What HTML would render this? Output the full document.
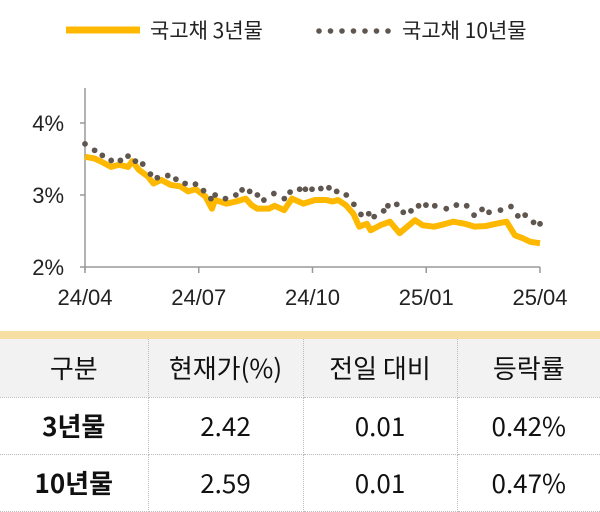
<!DOCTYPE html>
<html><head><meta charset="utf-8"><style>
body{margin:0;width:600px;height:504px;background:#fff;overflow:hidden;font-family:"Liberation Sans","Noto Sans CJK KR",sans-serif;position:relative}
svg{position:absolute;left:0;top:0}
table{position:absolute;left:0;top:339px;width:600px;border-collapse:collapse;font-family:"Noto Sans CJK KR","Liberation Sans",sans-serif;table-layout:fixed}
td{text-align:center;font-size:26px;color:#111;border:1px dotted #bbb;padding:0;line-height:1;box-sizing:border-box}
tr.h td{background:#f2f2f2;height:58px;border-top:none}
tr.r td{height:57px}
td:first-child{border-left:none}td:last-child{border-right:none}
</style></head><body>
<svg width="600" height="340" id="chart"></svg>
<div style="position:absolute;left:0;top:331px;width:600px;height:8px;background:#f7dfa3"></div>
<table>
<tr class="h"><td style="width:148px">구분</td><td style="width:155px">현재가(%)</td><td style="width:154px">전일 대비</td><td>등락률</td></tr>
<tr class="r"><td style="font-weight:bold">3년물</td><td>2.42</td><td>0.01</td><td>0.42%</td></tr>
<tr class="r"><td style="font-weight:bold">10년물</td><td>2.59</td><td>0.01</td><td>0.47%</td></tr>
</table>
<script>
const xTicks=["24/04","24/07","24/10","25/01","25/04"];
const yTicks=[2,3,4];
const d3y=[0,7.1,12.3,21,27.1,34.6,37.9,43.2,50.3,54.9,61.1,68.8,76.5,82.7,88.8,96.6,101.8,104.3,113.5,121.2,128.9,133.6,138.2,147.5,152.1,159.8,166,175.2,184.5,193.7,198.4,203,209.2,215.3,220,226.1,229.2,236.9,244.6,252.4,258.5,264.7,270.9,280.1,289.4,295.5,304.8,312.5,321.8,329.5,338.1,344.9,351.1,357.2,365];
const v3y=[3.53,3.51,3.47,3.39,3.42,3.39,3.47,3.35,3.26,3.16,3.21,3.14,3.12,3.05,3.08,2.98,2.81,2.93,2.88,2.91,2.95,2.86,2.81,2.81,2.85,2.79,2.95,2.88,2.93,2.93,2.91,2.93,2.86,2.74,2.56,2.6,2.51,2.58,2.63,2.47,2.56,2.65,2.58,2.56,2.6,2.63,2.6,2.56,2.57,2.6,2.63,2.44,2.4,2.35,2.33];
const d10y=[0,7.7,13.9,21,28.4,34.5,40.4,46.3,52.5,58,66.4,72.9,80.3,88.6,95.1,101,104.4,112.7,121,126,132.1,138.3,143.5,151.5,159.9,164.5,172.2,176.8,182.1,189.2,195.7,201.9,209.6,215.7,221.4,227.6,232,239.6,243,250.1,255.3,261.5,267.6,273.5,280.6,289.8,297.9,306.2,312.1,318.5,324.1,333.3,341.7,347.2,353.1,359.8,365];
const v10y=[3.71,3.62,3.55,3.48,3.48,3.54,3.47,3.43,3.29,3.24,3.27,3.22,3.16,3.15,3.06,2.95,3.0,2.95,3.0,3.07,3.05,3.0,2.93,3.02,2.95,3.04,3.08,3.08,3.08,3.09,3.1,3.05,3.0,2.87,2.73,2.74,2.7,2.78,2.85,2.87,2.76,2.78,2.85,2.86,2.85,2.81,2.86,2.85,2.72,2.8,2.76,2.79,2.84,2.71,2.72,2.62,2.6];
const NS="http://www.w3.org/2000/svg";
const svg=document.getElementById('chart');
const x=d=>85+d/365*455;
const y=v=>267-(v-2)*72;
function mk(t,a,p){const e=document.createElementNS(NS,t);for(const k in a)e.setAttribute(k,a[k]);(p||svg).appendChild(e);return e;}
let e=mk('line',{x1:66,y1:30,x2:140,y2:30,stroke:'#FFB800','stroke-width':7});


e=mk('text',{x:150,y:38,'font-size':21,fill:'#222','font-family':'"Noto Sans CJK KR",sans-serif'});e.textContent='국고채 3년물';


for(let i=0;i<7;i++){e=mk('circle',{cx:319+i*11.5,cy:31,r:2.8,fill:'#5f5650'});

}
e=mk('text',{x:402,y:38,'font-size':21,fill:'#222','font-family':'"Noto Sans CJK KR",sans-serif'});e.textContent='국고채 10년물';


e=mk('line',{x1:85,y1:88,x2:85,y2:270,stroke:'#999','stroke-width':1.5});


e=mk('line',{x1:85,y1:267,x2:540,y2:267,stroke:'#999','stroke-width':1.5});


yTicks.forEach(v=>{mk('line',{x1:80,y1:y(v),x2:85,y2:y(v),stroke:'#999','stroke-width':1.5});
e=mk('text',{x:64,y:y(v)+8,'font-size':22,fill:'#222','text-anchor':'end'});e.textContent=v+'%';

});
xTicks.forEach((t,i)=>{const xx=85+i*455/4;mk('line',{x1:xx,y1:267,x2:xx,y2:273,stroke:'#999','stroke-width':1.5});
e=mk('text',{x:xx,y:305,'font-size':22,fill:'#222','text-anchor':'middle'});e.textContent=t;

});
e=mk('polyline',{points:d3y.map((d,i)=>x(d)+','+y(v3y[i])).join(' '),fill:'none',stroke:'#FFB800','stroke-width':6,'stroke-linejoin':'round'});


d10y.forEach((d,i)=>{e=mk('circle',{cx:x(d),cy:y(v10y[i]),r:2.9,fill:'#5f5650'});

});
</script>
</body></html>
